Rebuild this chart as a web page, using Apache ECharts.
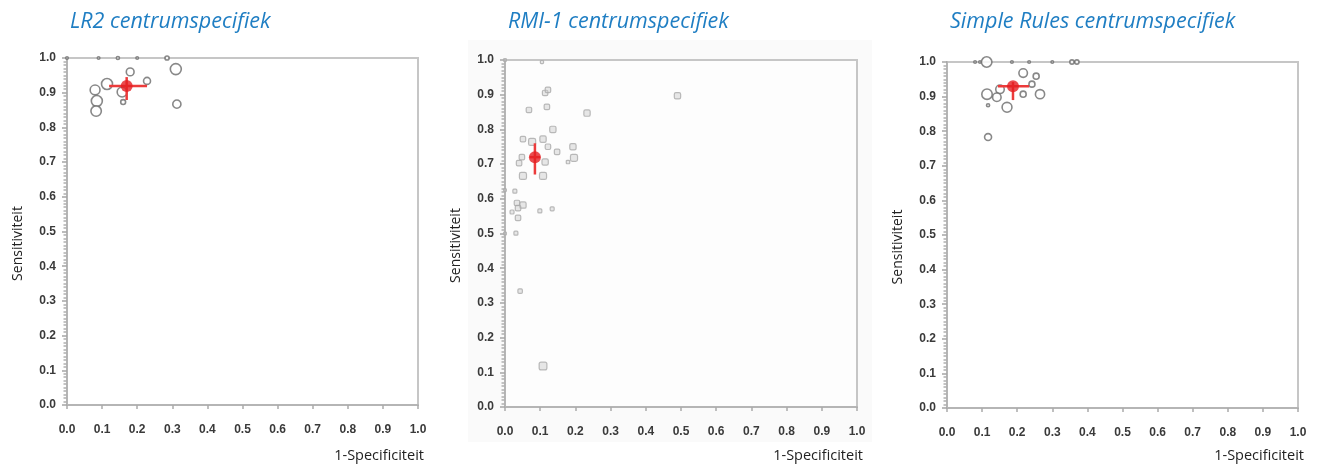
<!DOCTYPE html>
<html>
<head>
<meta charset="utf-8">
<script src="https://cdn.jsdelivr.net/npm/echarts@6/dist/echarts.min.js"></script>
<style>
html,body{margin:0;padding:0;background:#fff;}
#c{width:1322px;height:468px;}
</style>
</head>
<body>
<div id="c"></div>
<script>
// ---- Data ----
const panelTitles = ['LR2 centrumspecifiek', 'RMI-1 centrumspecifiek', 'Simple Rules centrumspecifiek'];
const xAxisName = '1-Specificiteit';
const yAxisName = 'Sensitiviteit';

// LR2: per-centre 1-specificity, sensitivity, relative weight (centre size)
const lr2X = [0.0, 0.09, 0.145, 0.2, 0.285, 0.31, 0.18, 0.228, 0.114, 0.08, 0.157, 0.16, 0.085, 0.083, 0.313];
const lr2Y = [1.0, 1.0, 1.0, 1.0, 1.0, 0.968, 0.96, 0.934, 0.925, 0.908, 0.902, 0.873, 0.876, 0.847, 0.867];
const lr2W = [4, 4, 8, 4, 14, 100, 50, 40, 100, 80, 80, 20, 100, 90, 55];
// summary: [x, y, xLow, xHigh, yLow, yHigh]
const lr2Summary = [0.17, 0.919, 0.12, 0.228, 0.879, 0.945];

// RMI-1
const rmiX = [0.0, 0.105, 0.114, 0.122, 0.068, 0.119, 0.233, 0.136, 0.051, 0.077, 0.108, 0.122, 0.148, 0.193, 0.196, 0.179, 0.048, 0.04, 0.114, 0.051, 0.108, 0.028, 0.0, 0.034, 0.051, 0.037, 0.02, 0.037, 0.099, 0.134, 0.031, 0.0, 0.043, 0.108, 0.49];
const rmiY = [1.0, 0.994, 0.905, 0.914, 0.856, 0.865, 0.847, 0.80, 0.772, 0.764, 0.772, 0.75, 0.735, 0.75, 0.718, 0.706, 0.72, 0.703, 0.706, 0.666, 0.666, 0.622, 0.625, 0.588, 0.582, 0.573, 0.562, 0.545, 0.565, 0.571, 0.501, 0.5, 0.334, 0.118, 0.897];
const rmiW = [8, 10, 30, 30, 30, 30, 40, 40, 30, 50, 40, 30, 30, 40, 50, 12, 30, 30, 40, 50, 50, 16, 8, 30, 40, 30, 16, 30, 16, 16, 16, 8, 20, 60, 40];
const rmiSummary = [0.085, 0.72, 0.07, 0.10, 0.67, 0.76];

// Simple Rules
const srX = [0.08, 0.094, 0.113, 0.185, 0.234, 0.3, 0.356, 0.37, 0.217, 0.254, 0.242, 0.151, 0.114, 0.142, 0.217, 0.265, 0.117, 0.171, 0.117];
const srY = [1.0, 1.0, 1.0, 1.0, 1.0, 1.0, 1.0, 1.0, 0.968, 0.959, 0.936, 0.921, 0.907, 0.898, 0.907, 0.907, 0.875, 0.869, 0.783];
const srW = [4, 4, 90, 5, 5, 5, 15, 15, 60, 30, 30, 60, 90, 60, 30, 70, 8, 80, 40];
const srSummary = [0.188, 0.93, 0.145, 0.234, 0.89, 0.942];

// ---- Layout ----
const grids = [
  {left: 67, right: 904, top: 58, bottom: 63},
  {left: 505, right: 465, top: 60, bottom: 61},
  {left: 947, right: 24, top: 62, bottom: 60}
];
const W = 1322, H = 468;

function zip(xs, ys, ws) { return xs.map((x, i) => [x, ys[i], ws[i]]); }
const panels = [
  {pts: zip(lr2X, lr2Y, lr2W), sum: lr2Summary, style: 'open'},
  {pts: zip(rmiX, rmiY, rmiW), sum: rmiSummary, style: 'gray'},
  {pts: zip(srX, srY, srW), sum: srSummary, style: 'open'}
];

const chart = echarts.init(document.getElementById('c'), null, {renderer: 'canvas'});

const labelFont = {fontFamily: 'Liberation Sans, Arial', fontWeight: 'bold', fontSize: 12, color: '#3a3a3a'};

const option = {
  animation: false,
  backgroundColor: '#fff',
  title: panelTitles.map((t, i) => ({
    text: t,
    left: grids[i].left - 2,
    top: 6,
    textStyle: {color: '#1f7ec3', fontStyle: 'italic', fontWeight: 'normal', fontSize: 21.5, fontFamily: 'Open Sans'}
  })),
  grid: grids.map(g => Object.assign({
    show: true, borderColor: '#c6c6c6', borderWidth: 2, backgroundColor: 'transparent',
    containLabel: false, outerBoundsMode: 'none'
  }, g)),
  xAxis: grids.map((g, i) => ({
    type: 'value', gridIndex: i, min: 0, max: 1, interval: 0.1,
    axisLine: {show: true, onZero: false, lineStyle: {color: '#b5b5b5', width: 2}},
    axisTick: {show: true, length: 4, lineStyle: {color: '#aaa', width: 1.5}},
    splitLine: {show: false},
    axisLabel: Object.assign({margin: 19, formatter: v => v.toFixed(1)}, labelFont)
  })),
  yAxis: grids.map((g, i) => ({
    type: 'value', gridIndex: i, min: 0, max: 1, interval: 0.1,
    name: yAxisName, nameLocation: 'middle', nameGap: 42,
    nameTextStyle: {fontFamily: 'Open Sans', fontSize: 14, color: '#222', padding: [0, 24, 0, 0]},
    axisLine: {show: true, onZero: false, lineStyle: {color: '#b5b5b5', width: 2}},
    axisTick: {show: true, length: 5, lineStyle: {color: '#a5a5a5', width: 1.5}},
    minorTick: {show: true, splitNumber: 10, length: 3.5, lineStyle: {color: '#b0b0b0', width: 1.5}},
    splitLine: {show: false},
    axisLabel: Object.assign({margin: 11, formatter: v => v.toFixed(1)}, labelFont)
  })),
  graphic: [
    {type: 'rect', z: -10, shape: {x: 468, y: 40, width: 404, height: 402}, style: {fill: '#fafafa'}},
    {type: 'rect', z: -9, shape: {x: grids[1].left, y: grids[1].top, width: W - grids[1].left - grids[1].right, height: H - grids[1].top - grids[1].bottom}, style: {fill: '#fdfdfd'}}
  ].concat(grids.map(g => ({
    type: 'text', x: W - g.right + 6, y: 448,
    style: {text: xAxisName, align: 'right', verticalAlign: 'top', font: '14.5px "Open Sans"', fill: '#222'}
  }))),
  series: []
};

panels.forEach((p, i) => {
  const open = p.style === 'open';
  option.series.push({
    type: 'scatter', xAxisIndex: i, yAxisIndex: i,
    data: p.pts,
    symbol: open ? 'circle' : 'roundRect',
    symbolSize: d => Math.max(2.5, Math.sqrt(d[2]) * (open ? 1.1 : 1.0)),
    itemStyle: open
      ? {color: '#fff', borderColor: '#6a6a6a', borderWidth: 1.6}
      : {color: 'rgba(200,200,200,0.55)', borderColor: '#aaaaaa', borderWidth: 1.2},
    z: 2
  });
  option.series.push({
    type: 'custom', xAxisIndex: i, yAxisIndex: i,
    data: [p.sum],
    encode: {x: 0, y: 1},
    renderItem: (params, api) => {
      const cx = api.value(0), cy = api.value(1);
      const a = api.coord([api.value(2), cy]), b = api.coord([api.value(3), cy]);
      const c = api.coord([cx, api.value(4)]), d = api.coord([cx, api.value(5)]);
      const st = {stroke: '#ec3b3b', lineWidth: 2.5};
      return {type: 'group', children: [
        {type: 'line', shape: {x1: a[0], y1: a[1], x2: b[0], y2: b[1]}, style: st},
        {type: 'line', shape: {x1: c[0], y1: c[1], x2: d[0], y2: d[1]}, style: st}
      ]};
    },
    z: 3
  });
  option.series.push({
    type: 'scatter', xAxisIndex: i, yAxisIndex: i,
    data: [[p.sum[0], p.sum[1]]],
    symbol: 'circle', symbolSize: 12,
    itemStyle: {color: '#e51f23'},
    z: 4
  });
});

chart.setOption(option);
</script>
</body>
</html>
